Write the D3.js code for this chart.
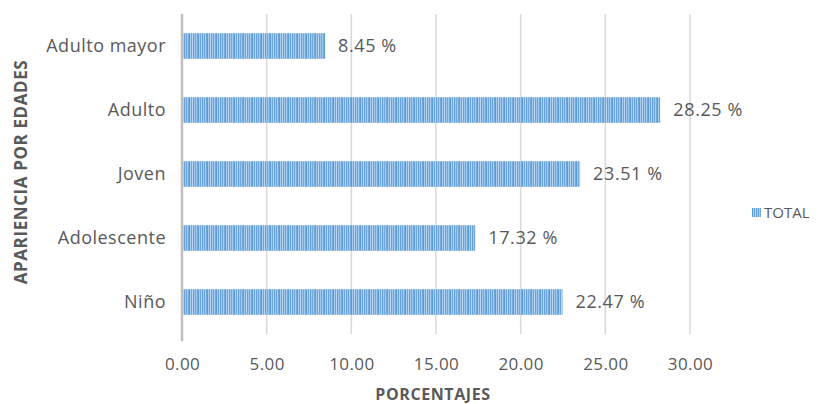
<!DOCTYPE html>
<html>
<head>
<meta charset="utf-8">
<script src="https://cdn.jsdelivr.net/npm/d3@7"></script>
<style>
  html, body { margin: 0; padding: 0; background: #fff; }
  svg { display: block; }
  text { font-family: "Open Sans", "Noto Sans", sans-serif; fill: #595959; }
</style>
</head>
<body>
<svg id="chart" width="831" height="404"></svg>
<script>
// Age groups (top to bottom) and their share in percent
const categories = ["Adulto mayor", "Adulto", "Joven", "Adolescente", "Niño"];
const values = [8.45, 28.25, 23.51, 17.32, 22.47];
const xTicks = [0, 5, 10, 15, 20, 25, 30];
const seriesName = "TOTAL";
const xTitle = "PORCENTAJES";
const yTitle = "APARIENCIA POR EDADES";

const svg = d3.select("#chart");
const margin = { left: 182, top: 14, right: 141, bottom: 70 };
const W = 831, H = 404;

const x = d3.scaleLinear().domain([0, 30]).range([margin.left, 690]);
const y = d3.scaleBand().domain(categories)
  .range([margin.top, H - margin.bottom])
  .paddingInner(0.6).paddingOuter(0.3);

// striped fill for the bars
const defs = svg.append("defs");
const pat = defs.append("pattern")
  .attr("id", "stripes").attr("patternUnits", "userSpaceOnUse")
  .attr("width", 9).attr("height", 40);
pat.append("rect").attr("width", 9).attr("height", 40).attr("fill", "#5b9bd5");
[[1, 1.2, "#a9cdef"], [3.2, 0.9, "#cfe3f6"], [5, 1.3, "#9fc6ec"], [7.4, 0.8, "#d6e8f8"]]
  .forEach(([px, w, c]) => pat.append("rect").attr("x", px).attr("width", w).attr("height", 40).attr("fill", c));

// vertical gridlines
svg.append("g").selectAll("line")
  .data(xTicks.filter(d => d > 0))
  .join("line")
  .attr("x1", d => x(d)).attr("x2", d => x(d))
  .attr("y1", margin.top).attr("y2", H - margin.bottom)
  .attr("stroke", "#d9d9d9").attr("stroke-width", 1.5);

// bars
svg.append("g").selectAll("rect")
  .data(categories)
  .join("rect")
  .attr("x", x(0))
  .attr("y", d => y(d))
  .attr("width", (d, i) => x(values[i]) - x(0))
  .attr("height", y.bandwidth())
  .attr("fill", "url(#stripes)");

// value labels
svg.append("g").selectAll("text")
  .data(categories)
  .join("text")
  .attr("x", (d, i) => x(values[i]) + 13)
  .attr("y", d => y(d) + y.bandwidth() / 2)
  .attr("dy", "0.35em")
  .attr("font-size", 18)
  .attr("letter-spacing", 0.6)
  .text((d, i) => values[i].toFixed(2) + " %");

// category axis
svg.append("line")
  .attr("x1", x(0)).attr("x2", x(0))
  .attr("y1", margin.top).attr("y2", H - margin.bottom + 7)
  .attr("stroke", "#bfbfbf").attr("stroke-width", 2.5);

svg.append("g").selectAll("text")
  .data(categories)
  .join("text")
  .attr("x", x(0) - 16)
  .attr("y", d => y(d) + y.bandwidth() / 2)
  .attr("dy", "0.35em")
  .attr("text-anchor", "end")
  .attr("font-size", 18)
  .attr("letter-spacing", 0.5)
  .text(d => d);

// value axis tick labels
const xAxis = d3.axisBottom(x).tickValues(xTicks).tickFormat(d3.format(".2f")).tickSize(0).tickPadding(0);
const gx = svg.append("g").attr("transform", `translate(0,${H - margin.bottom + 30})`).call(xAxis);
gx.select(".domain").remove();
gx.selectAll("text").attr("font-size", 17).attr("fill", "#595959")
  .attr("letter-spacing", 0.4)
  .style("font-family", '"Open Sans", "Noto Sans", sans-serif').attr("dy", "0.35em").attr("y", 0);

// axis titles
svg.append("text")
  .attr("x", 433).attr("y", 400)
  .attr("text-anchor", "middle")
  .attr("font-size", 16).attr("font-weight", "bold")
  .attr("letter-spacing", 0.6)
  .text(xTitle);

svg.append("text")
  .attr("transform", "translate(27,172) rotate(-90)")
  .attr("text-anchor", "middle")
  .attr("font-size", 17).attr("font-weight", "bold")
  .attr("letter-spacing", 0.6)
  .text(yTitle);

// legend
const lg = svg.append("g").attr("transform", "translate(752,213)");
lg.append("rect").attr("x", 0).attr("y", -5).attr("width", 9).attr("height", 9).attr("fill", "url(#stripes)");
lg.append("text").attr("x", 12).attr("y", 0).attr("dy", "0.35em").attr("font-size", 15).text(seriesName);
</script>
</body>
</html>
